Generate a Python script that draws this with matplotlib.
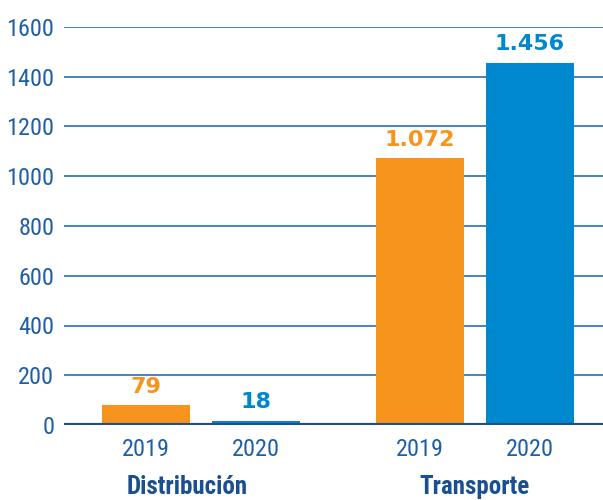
import matplotlib
matplotlib.use('Agg')
import matplotlib.pyplot as plt
import matplotlib.transforms as mtransforms

# data
groups = ['Distribución', 'Transporte']
years = ['2019', '2020']
values_2019 = [79, 1072]
values_2020 = [18, 1456]
labels_2019 = ['79', '1.072']
labels_2020 = ['18', '1.456']

ORANGE = '#F7941D'
BLUE = '#0088CF'
AXIS_BLUE = '#1F5FA6'
DARK_BLUE = '#1A4F91'

narrow = ['Roboto Condensed', 'Liberation Sans']

fig = plt.figure(figsize=(6.03, 5.0), dpi=100)
ax = fig.add_axes([0.106, 0.15, 0.894, 0.796])

group_pos = [0.0, 2.49]
width = 0.8
pos_2019 = [g for g in group_pos]
pos_2020 = [g + 1 for g in group_pos]

b1 = ax.bar(pos_2019, values_2019, width=width, color=ORANGE, zorder=3)
b2 = ax.bar(pos_2020, values_2020, width=width, color=BLUE, zorder=3)

for bars, labs, col in [(b1, labels_2019, ORANGE), (b2, labels_2020, BLUE)]:
    for r, lab in zip(bars, labs):
        ax.annotate(lab, (r.get_x() + r.get_width() / 2, r.get_height()),
                    xytext=(0, 6), textcoords='offset points',
                    ha='center', va='bottom', color=col,
                    fontsize=16, fontweight='bold', family='DejaVu Sans')

ax.set_xlim(-0.745, 4.155)
ax.set_ylim(0, 1600)
ax.set_yticks(range(0, 1601, 200))
ax.grid(axis='y', color='#2A6DB5', lw=1.2, zorder=1)
ax.axhline(0, color='#1F4E8C', lw=3, zorder=4)

ticks = pos_2019 + pos_2020
ax.set_xticks(ticks)
ax.set_xticklabels([years[0]] * 2 + [years[1]] * 2)
for s in ax.spines.values():
    s.set_visible(False)
ax.tick_params(length=0, colors=AXIS_BLUE, labelsize=17.5)
ax.tick_params(axis='y', pad=7)
ax.tick_params(axis='x', pad=9)
for t in ax.get_xticklabels() + ax.get_yticklabels():
    t.set_family(narrow)

# group names sit a little left of the Distribución group centre in the original
trans = mtransforms.blended_transform_factory(ax.transData, fig.transFigure)
for g, name, shift in zip(group_pos, groups, [0.38, 0.5]):
    ax.text(g + shift, 1 - 487 / 500, name, transform=trans, ha='center', va='center',
            fontsize=18, fontweight='bold', color=DARK_BLUE, family=narrow)

fig.savefig('out.png', dpi=100)
